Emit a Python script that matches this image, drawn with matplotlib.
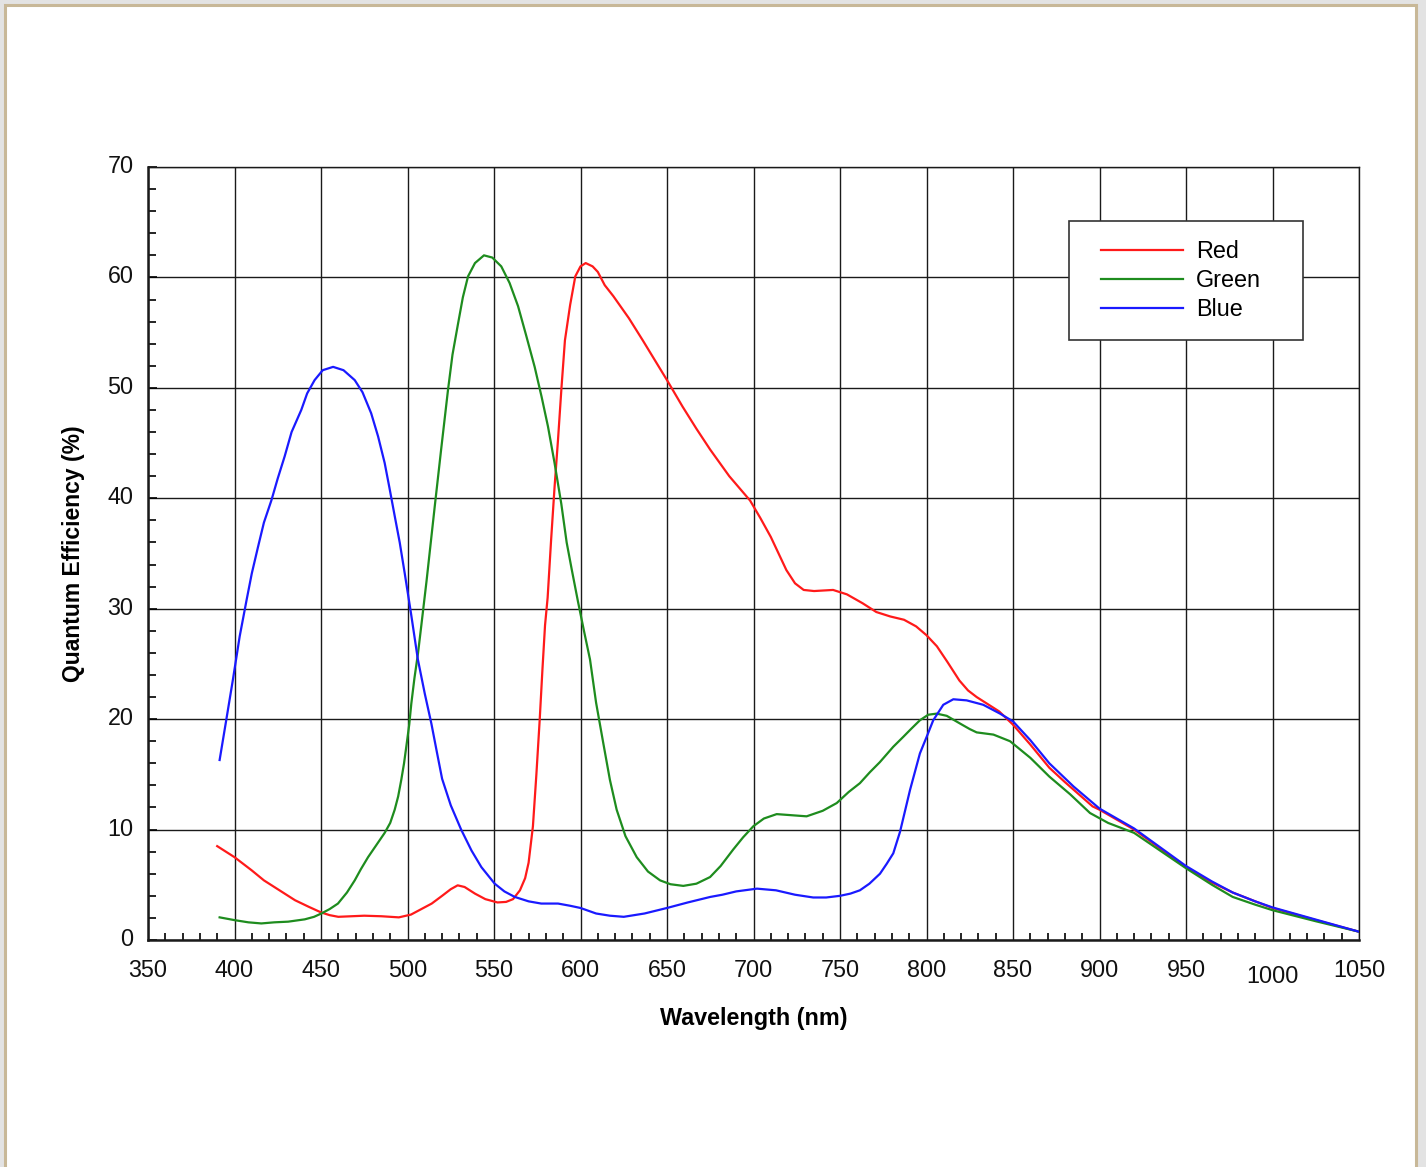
import matplotlib
matplotlib.use('Agg')
import matplotlib.pyplot as plt
from matplotlib.patches import Rectangle
from matplotlib.legend_handler import HandlerLine2D
from matplotlib.transforms import ScaledTranslation

# values (wavelength nm, QE %)
red_wl = [390, 400, 410, 417, 425, 435, 443, 450, 455, 460, 475, 485, 495, 502,
          508, 514, 520, 525, 529, 533, 539, 545, 552, 557, 561, 565, 568, 570,
          572.5, 574.5, 576.4, 578, 579.5, 581, 583, 585, 587, 589, 591, 594,
          597, 600, 603, 607, 610, 614, 619, 628, 636, 643, 650, 659, 667, 675,
          686, 698, 704, 710, 719, 724, 729, 735, 746, 754, 763, 771, 779, 787,
          794, 800, 806, 812, 819, 824, 829, 835, 842, 850, 860, 871, 880, 896,
          900, 910, 920, 935, 950, 965, 977, 990, 1000, 1025, 1050]
red_qe = [8.5, 7.5, 6.3, 5.4, 4.6, 3.6, 3.0, 2.5, 2.25, 2.1, 2.2, 2.15, 2.05, 2.3,
          2.8, 3.3, 4.0, 4.6, 4.95, 4.8, 4.2, 3.7, 3.4, 3.45, 3.7, 4.5, 5.6, 7.0,
          10.3, 15.0, 19.9, 24.5, 28.5, 31.0, 36.2, 41.0, 45.3, 50.0, 54.3, 57.5,
          60.1, 61.0, 61.3, 61.0, 60.5, 59.3, 58.3, 56.3, 54.3, 52.5, 50.7, 48.3,
          46.3, 44.4, 42.0, 39.8, 38.2, 36.5, 33.5, 32.3, 31.7, 31.6, 31.7, 31.3,
          30.5, 29.7, 29.3, 29.0, 28.4, 27.6, 26.6, 25.2, 23.5, 22.6, 22.0, 21.4,
          20.7, 19.5, 17.7, 15.6, 14.3, 12.1, 11.8, 10.9, 10.0, 8.3, 6.6, 5.2,
          4.3, 3.5, 2.9, 1.8, 0.75]

green_wl = [391.4, 400, 408, 415.5, 423, 431, 440.6, 446, 450.2, 455, 459.8, 465,
            469.5, 473, 477.2, 482, 486.8, 490, 492.6, 494.6, 496.4, 498, 499.3,
            501, 502.2, 504, 506.1, 508, 511, 515.7, 519.5, 523.4, 526, 529.2,
            532, 535, 539, 544.2, 549, 554.2, 559, 563.9, 568.5, 573.5, 577.5,
            581.2, 585, 588.9, 592, 595, 598.6, 602, 605.5, 609, 613.2, 617,
            620.9, 626, 632.5, 639, 646, 652, 659.4, 667, 674.9, 681, 688.3, 694,
            699.9, 706, 713.4, 722, 730.7, 740, 748.1, 755, 761.5, 767.3, 773,
            780.8, 786.6, 791, 796.2, 801, 805.9, 811.7, 819.4, 825, 829, 838.7,
            848.3, 860, 871, 883, 894.5, 905, 920, 935, 950, 965, 977, 990, 1000,
            1025, 1050]
green_qe = [2.05, 1.8, 1.6, 1.5, 1.6, 1.66, 1.87, 2.1, 2.4, 2.8, 3.3, 4.3, 5.4,
            6.4, 7.5, 8.6, 9.7, 10.6, 11.8, 13.0, 14.5, 16.0, 17.5, 19.5, 21.4,
            23.7, 26.0, 28.5, 32.5, 39.2, 44.5, 49.8, 53.0, 55.8, 58.2, 60.1,
            61.3, 62.0, 61.8, 61.0, 59.5, 57.4, 54.8, 51.9, 49.2, 46.5, 43.2,
            39.5, 36.0, 33.5, 30.6, 28.0, 25.4, 21.5, 17.8, 14.5, 11.8, 9.4, 7.5,
            6.2, 5.4, 5.05, 4.9, 5.1, 5.7, 6.7, 8.2, 9.3, 10.3, 11.0, 11.4, 11.3,
            11.2, 11.7, 12.4, 13.4, 14.2, 15.2, 16.1, 17.5, 18.4, 19.1, 19.9,
            20.4, 20.5, 20.3, 19.6, 19.1, 18.8, 18.6, 18.0, 16.5, 14.8, 13.2,
            11.5, 10.6, 9.7, 8.1, 6.5, 5.0, 3.9, 3.2, 2.7, 1.7, 0.75]

blue_wl = [391.4, 395, 399, 403, 407, 410, 413.6, 417, 421.3, 425, 429, 433,
           438.6, 442, 446.3, 451, 457, 463, 469.5, 474, 479, 483, 486.8, 489.5,
           492.6, 495.5, 498.4, 502, 506, 510, 513.8, 517, 520, 525, 531, 537,
           542.7, 550.4, 556, 562, 570, 577.3, 587, 594, 600, 609, 617, 625, 637,
           650, 662, 675, 682, 690, 702, 713, 724, 734.5, 742, 750, 756, 761.5,
           767, 773.1, 777, 780.8, 784.7, 790.5, 796.2, 800.1, 803.9, 809.7,
           815.5, 823.2, 832.8, 842.5, 850, 860, 871, 885, 900, 910, 920, 935,
           950, 965, 977, 990, 1000, 1025, 1050]
blue_qe = [16.3, 19.7, 23.5, 27.5, 30.8, 33.2, 35.6, 37.8, 39.8, 41.8, 43.8, 46.0,
           48.0, 49.5, 50.7, 51.6, 51.9, 51.6, 50.7, 49.6, 47.7, 45.6, 43.2, 41.0,
           38.4, 36.0, 33.2, 29.6, 25.4, 22.3, 19.6, 17.0, 14.6, 12.2, 10.0, 8.1,
           6.6, 5.1, 4.4, 3.9, 3.5, 3.3, 3.3, 3.1, 2.9, 2.4, 2.2, 2.1, 2.4, 2.9,
           3.4, 3.9, 4.1, 4.4, 4.65, 4.5, 4.1, 3.85, 3.85, 4.0, 4.2, 4.5, 5.1,
           6.0, 6.9, 7.85, 9.8, 13.6, 16.9, 18.4, 19.9, 21.3, 21.8, 21.7, 21.3,
           20.5, 19.8, 18.1, 16.0, 13.9, 11.9, 11.0, 10.1, 8.4, 6.7, 5.3, 4.3,
           3.5, 2.95, 1.85, 0.75]

x_ticks = list(range(350, 1051, 50))
y_ticks = list(range(0, 71, 10))


def main():
    plt.rcParams['font.family'] = ['Liberation Sans', 'DejaVu Sans']

    fig = plt.figure(figsize=(14.26, 11.67), dpi=100)
    fig.set_facecolor('#e3e3e3')
    page = Rectangle((5 / 1426, -0.02), (1415.5 - 5) / 1426, 1.02 - 4.5 / 1167,
                     transform=fig.transFigure, facecolor='white',
                     edgecolor='#c8b898', linewidth=2.2, zorder=-10)
    fig.patches.append(page)

    ax = fig.add_axes([148 / 1426, 1 - 940 / 1167, (1359 - 148) / 1426, 773 / 1167])
    ax.set_facecolor('white')

    ax.plot(red_wl, red_qe, color='#ff1a1a', linewidth=1.6, label='Red', zorder=3)
    ax.plot(green_wl, green_qe, color='#1e8c1e', linewidth=1.6, label='Green', zorder=3)
    ax.plot(blue_wl, blue_qe, color='#1a1aff', linewidth=1.6, label='Blue', zorder=3)

    ax.set_xlim(350, 1050)
    ax.set_ylim(0, 70)
    ax.set_xticks(x_ticks)
    ax.set_yticks(y_ticks)
    ax.set_xticks(range(350, 1051, 10), minor=True)
    ax.set_yticks(range(0, 71, 2), minor=True)
    ax.grid(True, which='major', color='#1a1a1a', linewidth=1.0)
    ax.set_axisbelow(True)

    ax.tick_params(axis='both', which='both', direction='in', color='black',
                   width=1.2, labelsize=16.8, labelcolor='#111111')
    ax.tick_params(axis='x', which='major', length=0, pad=13.5)
    ax.tick_params(axis='x', which='minor', length=5)
    ax.tick_params(axis='y', which='major', length=6.5, pad=10.5)
    ax.tick_params(axis='y', which='minor', length=5.5)
    ax.tick_params(top=False, right=False)
    for side in ax.spines:
        ax.spines[side].set_color('#1a1a1a')
        ax.spines[side].set_linewidth(1.0)
    ax.spines['left'].set_linewidth(1.8)
    ax.spines['bottom'].set_linewidth(1.8)

    # the 1000 label sits a bit lower in the original, y labels sit a little high
    xt = ax.xaxis.get_major_ticks()
    k = x_ticks.index(1000)
    xt[k].label1.set_transform(xt[k].label1.get_transform()
                               + ScaledTranslation(0, -6 / 100, fig.dpi_scale_trans))
    for tick in ax.yaxis.get_major_ticks():
        tick.label1.set_transform(tick.label1.get_transform()
                                  + ScaledTranslation(0, 3 / 100, fig.dpi_scale_trans))

    ax.set_xlabel('Wavelength (nm)', fontsize=16.8, fontweight='bold', labelpad=14)
    ax.set_ylabel('Quantum Efficiency (%)', fontsize=16.5, fontweight='bold', labelpad=16)

    x0 = (1069 - 148) / 1211
    w = (1303 - 1069) / 1211
    top = (940 - 221) / 773
    leg = ax.legend(loc='upper left', bbox_to_anchor=(x0, top - 0.4, w, 0.4),
                    mode='expand', borderaxespad=0, fontsize=16.8,
                    fancybox=False, framealpha=1, edgecolor='#333333',
                    handlelength=4.64, handletextpad=0.0, labelspacing=0.27,
                    borderpad=0.8,
                    handler_map={plt.Line2D: HandlerLine2D(marker_pad=0.57, numpoints=2)})
    leg.get_frame().set_linewidth(1.2)
    leg.set_zorder(5)

    fig.savefig('out.png', dpi=100, facecolor=fig.get_facecolor())


if __name__ == "__main__":
    main()
